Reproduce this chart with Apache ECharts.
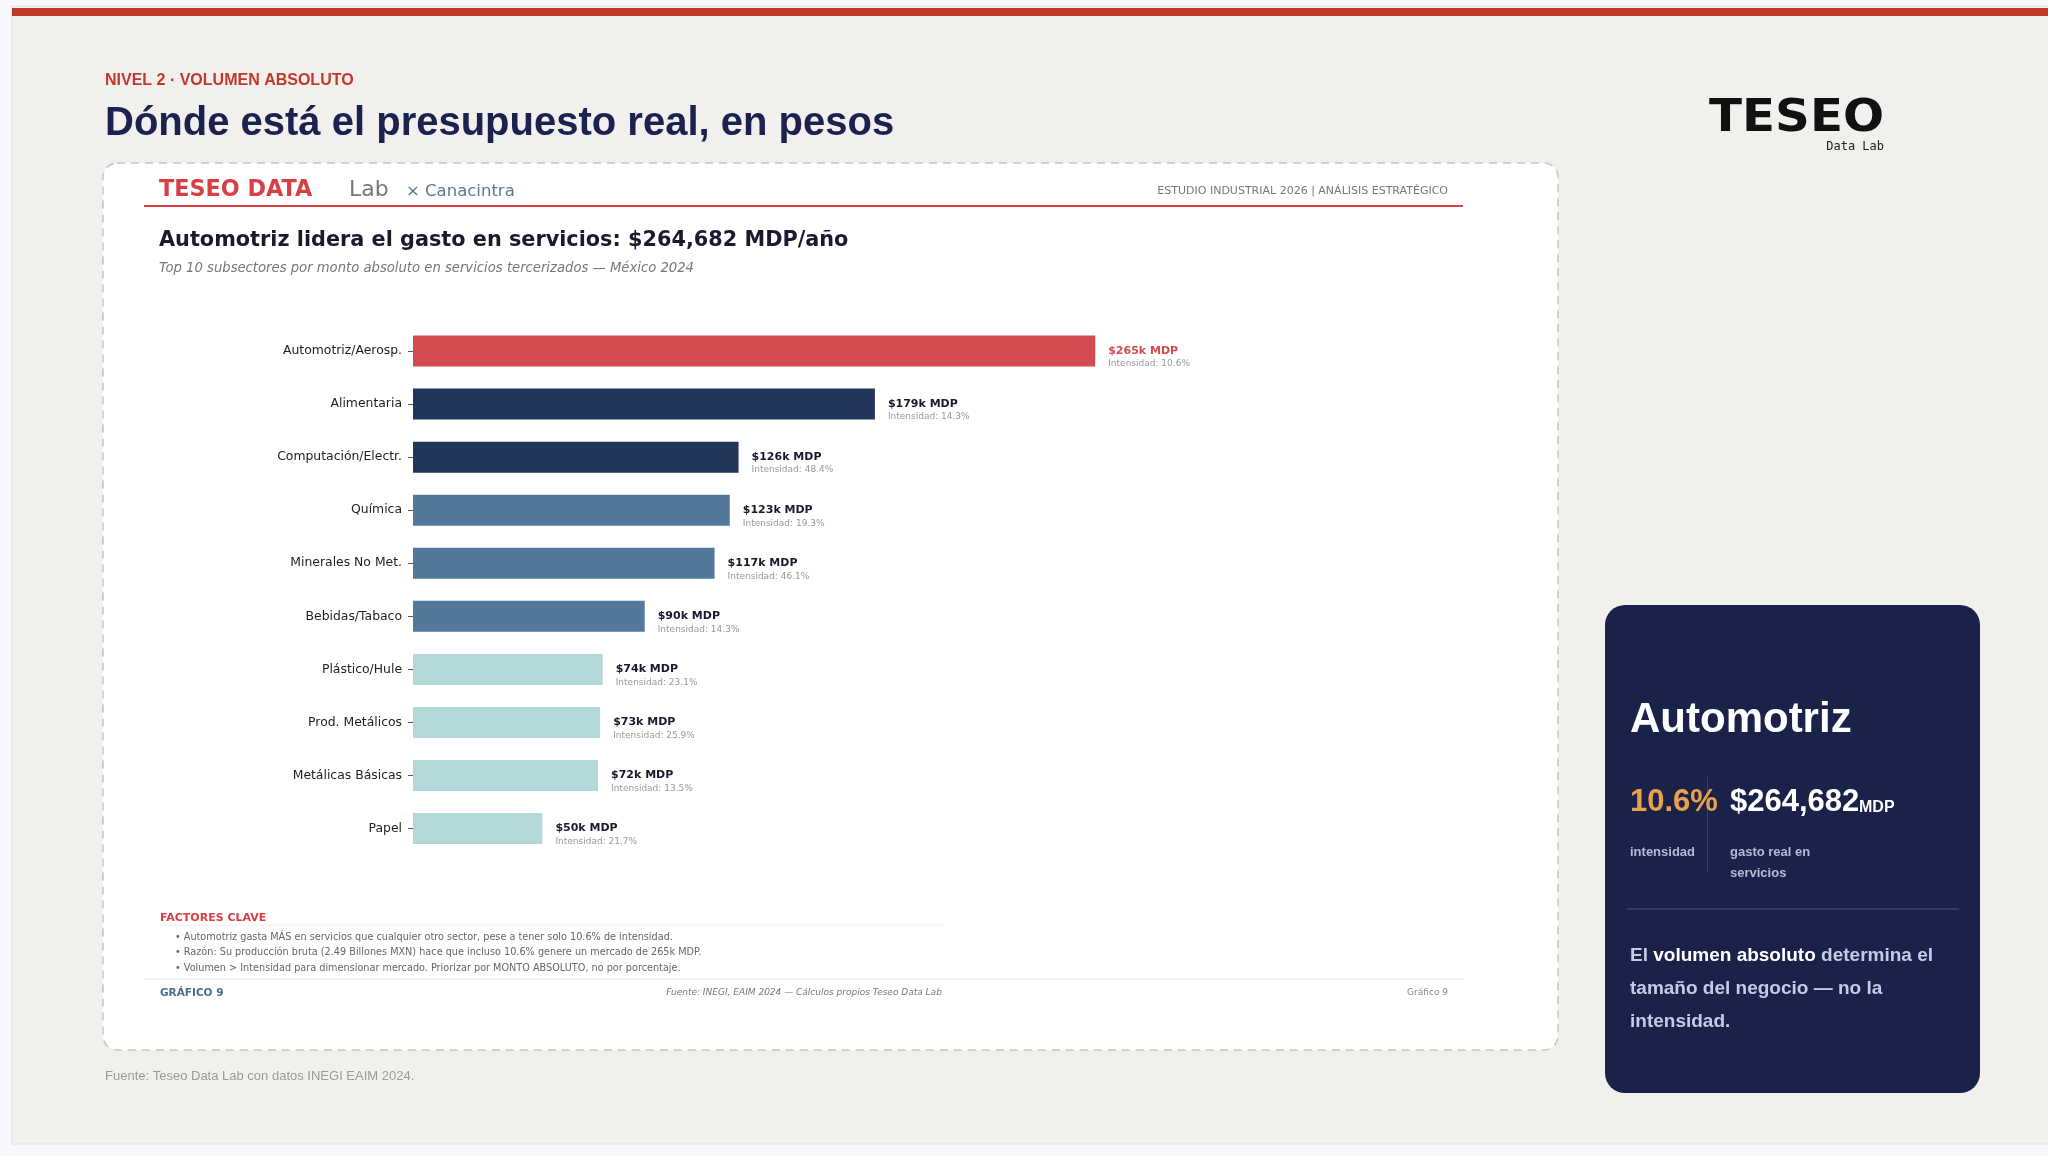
<!DOCTYPE html>
<html>
<head>
<meta charset="utf-8">
<title>Dónde está el presupuesto real, en pesos</title>
<script src="https://cdn.jsdelivr.net/npm/echarts@6/dist/echarts.min.js"></script>
<style>
  html, body { margin: 0; padding: 0; background: #f7f8fb; }
  #chart { width: 2048px; height: 1156px; }
</style>
</head>
<body>
<div id="chart"></div>
<script>
// datos: top 10 subsectores, gasto en servicios tercerizados (MDP) e intensidad (%)
const sectores = ['Automotriz/Aerosp.', 'Alimentaria', 'Computación/Electr.', 'Química', 'Minerales No Met.',
  'Bebidas/Tabaco', 'Plástico/Hule', 'Prod. Metálicos', 'Metálicas Básicas', 'Papel'];
const gastoMDP = [264682, 179200, 126300, 122900, 117000, 89900, 73600, 72600, 71800, 50200];
const intensidad = [10.6, 14.3, 48.4, 19.3, 46.1, 14.3, 23.1, 25.9, 13.5, 21.7];
const bullets = [
  '• Automotriz gasta MÁS en servicios que cualquier otro sector, pese a tener solo 10.6% de intensidad.',
  '• Razón: Su producción bruta (2.49 Billones MXN) hace que incluso 10.6% genere un mercado de 265k MDP.',
  '• Volumen > Intensidad para dimensionar mercado. Priorizar por MONTO ABSOLUTO, no por porcentaje.'
];

const RED = '#d54a4c', NAVY = '#22355a', STEEL = '#52799b', TEAL = '#b2d8d9';
function colorFor(i) {
  if (i === 0) return RED;
  if (i <= 2) return NAVY;
  if (i <= 5) return STEEL;
  return TEAL;
}

const DV = '"DejaVu Sans", sans-serif';
const LS = '"Liberation Sans", Arial, sans-serif';

const chart = echarts.init(document.getElementById('chart'), null, { renderer: 'canvas' });

function txt(x, y, text, font, color, extra) {
  return {
    type: 'text', x: x, y: y, z: 20,
    style: Object.assign({ text: text, fill: color, font: font, verticalAlign: 'middle', align: 'left' }, extra || {})
  };
}

const graphics = [
  // fondo de pagina
  { type: 'rect', z: 0, shape: { x: 12, y: 6, width: 2040, height: 1138 }, style: { fill: '#f2f0ed', stroke: '#e0e0e0', lineWidth: 1 } },
  { type: 'rect', z: 1, shape: { x: 12, y: 8, width: 2040, height: 8 }, style: { fill: '#c0392b' } },
  txt(105, 81, 'NIVEL 2 · VOLUMEN ABSOLUTO', 'bold 16px ' + LS, '#c0392b'),
  txt(105, 124, 'Dónde está el presupuesto real, en pesos', 'bold 40px ' + LS, '#1b2250'),
  // logo
  { type: 'text', x: 1709, y: 120, scaleX: 1.1, z: 20,
    style: { x: 0, y: 0, text: 'TESEO', fill: '#111', font: 'bold 44px ' + DV, verticalAlign: 'middle' } },
  txt(1884, 147, 'Data Lab', '12px "DejaVu Sans Mono", monospace', '#222', { align: 'right' }),

  // tarjeta del grafico
  { type: 'rect', z: 1, shape: { x: 103, y: 163, width: 1455, height: 887, r: 14 },
    style: { fill: '#ffffff', stroke: '#c4c4c4', lineWidth: 1.5, lineDash: [8, 6] } },
  txt(159, 190, 'TESEO DATA', 'bold 22.3px ' + DV, '#d64045'),
  txt(349, 190, 'Lab', '22px ' + DV, '#777777'),
  txt(406, 192, '× Canacintra', '16.5px ' + DV, '#5a7896'),
  txt(1448, 191, 'ESTUDIO INDUSTRIAL 2026 | ANÁLISIS ESTRATÉGICO', '11px ' + DV, '#777777', { align: 'right' }),
  { type: 'line', z: 2, shape: { x1: 144, y1: 206, x2: 1463, y2: 206 }, style: { stroke: '#d64045', lineWidth: 2 } },
  txt(159, 241, 'Automotriz lidera el gasto en servicios: $264,682 MDP/año', 'bold 20.8px ' + DV, '#1a1a2e'),
  txt(159, 269, 'Top 10 subsectores por monto absoluto en servicios tercerizados — México 2024', 'italic 13.2px ' + DV, '#777777'),

  txt(160, 918, 'FACTORES CLAVE', 'bold 11px ' + DV, '#d64045'),
  { type: 'line', z: 2, shape: { x1: 160, y1: 925, x2: 944, y2: 925 }, style: { stroke: '#eeeeee', lineWidth: 1 } },
  { type: 'line', z: 2, shape: { x1: 145, y1: 979, x2: 1463, y2: 979 }, style: { stroke: '#eeeeee', lineWidth: 1.5 } },
  txt(160, 993, 'GRÁFICO 9', 'bold 10.5px ' + DV, '#4a6d8c'),
  txt(804, 993, 'Fuente: INEGI, EAIM 2024 — Cálculos propios Teseo Data Lab', 'italic 9px ' + DV, '#777777', { align: 'center' }),
  txt(1448, 993, 'Gráfico 9', '9px ' + DV, '#888888', { align: 'right' }),

  txt(105, 1076, 'Fuente: Teseo Data Lab con datos INEGI EAIM 2024.', '13px ' + LS, '#9a9a9a'),

  // tarjeta lateral
  { type: 'rect', z: 1, shape: { x: 1605, y: 605, width: 375, height: 488, r: 20 }, style: { fill: '#1b2249' } },
  txt(1630, 720, 'Automotriz', 'bold 42px ' + LS, '#ffffff'),
  txt(1630, 802, '10.6%', 'bold 31px ' + LS, '#e8a24a'),
  txt(1730, 802, '$264,682', 'bold 31px ' + LS, '#ffffff'),
  txt(1859, 808, 'MDP', 'bold 16px ' + LS, '#ffffff'),
  { type: 'line', z: 2, shape: { x1: 1707.5, y1: 777, x2: 1707.5, y2: 872 }, style: { stroke: '#34406a', lineWidth: 1 } },
  txt(1630, 852, 'intensidad', 'bold 13px ' + LS, '#b4bbd6'),
  txt(1730, 852, 'gasto real en', 'bold 13px ' + LS, '#b4bbd6'),
  txt(1730, 873, 'servicios', 'bold 13px ' + LS, '#b4bbd6'),
  { type: 'line', z: 2, shape: { x1: 1627, y1: 909, x2: 1959, y2: 909 }, style: { stroke: '#3b4672', lineWidth: 1.5 } },
  { type: 'text', x: 1630, y: 939.5, z: 20,
    style: {
      text: '{a|El }{b|volumen absoluto}{a| determina el}\n{a|tamaño del negocio — no la}\n{a|intensidad.}',
      verticalAlign: 'top',
      rich: {
        a: { font: 'bold 19px ' + LS, fill: '#c5cae6', lineHeight: 33 },
        b: { font: 'bold 19px ' + LS, fill: '#ffffff', lineHeight: 33 }
      }
    } }
];

bullets.forEach(function (b, i) {
  graphics.push(txt(175, [937, 952, 968][i], b, '9.7px ' + DV, '#666666'));
});

chart.setOption({
  animation: false,
  graphic: { elements: graphics },
  grid: { left: 413, top: 324.5, width: 1031, height: 530.6, containLabel: false },
  xAxis: { type: 'value', min: 0, max: 400000, show: false },
  yAxis: {
    type: 'category',
    inverse: true,
    z: 10,
    data: sectores,
    axisLine: { show: false },
    axisTick: { show: true, length: 5, alignWithLabel: true, lineStyle: { color: '#555555', width: 1 } },
    axisLabel: { fontFamily: 'DejaVu Sans', fontSize: 12.4, color: '#1e1e1e', margin: 11 },
    splitLine: { show: false }
  },
  series: [{
    type: 'bar',
    z: 5,
    barWidth: 31,
    data: gastoMDP.map(function (v, i) {
      return {
        value: v,
        itemStyle: { color: colorFor(i) },
        label: { rich: { v: { color: i === 0 ? RED : '#1a1a2e' } } }
      };
    }),
    label: {
      show: true,
      position: 'right',
      distance: 13,
      offset: [0, 6],
      formatter: function (p) {
        return '{v|$' + Math.round(p.value / 1000) + 'k MDP}\n{i|Intensidad: ' + intensidad[p.dataIndex].toFixed(1) + '%}';
      },
      rich: {
        v: { fontFamily: 'DejaVu Sans', fontSize: 11, fontWeight: 'bold', color: '#1a1a2e', lineHeight: 14 },
        i: { fontFamily: 'DejaVu Sans', fontSize: 9, color: '#999999', lineHeight: 12 }
      }
    }
  }]
});
</script>
</body>
</html>
